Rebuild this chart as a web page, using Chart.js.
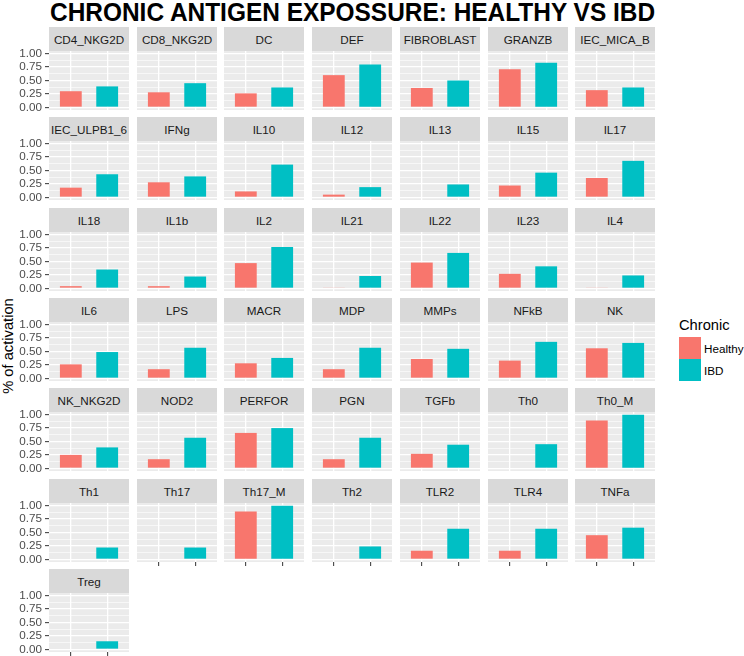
<!DOCTYPE html>
<html>
<head>
<meta charset="utf-8">
<script src="https://cdn.jsdelivr.net/npm/chart.js@4.4.1/dist/chart.umd.min.js"></script>
<style>
  html, body { margin: 0; padding: 0; background: #fff; }
  body { width: 744px; height: 656px; position: relative; overflow: hidden; font-family: "Liberation Sans", Arial, sans-serif; }
  canvas { position: absolute; }
  .strip { position: absolute; background: #D9D9D9; color: #1A1A1A; font-size: 11.7px; text-align: center; white-space: nowrap; display: flex; align-items: center; justify-content: center; overflow: visible; }
  #title { position: absolute; top: -1px; left: 0; font-weight: bold; font-size: 25px; line-height: 26px; white-space: nowrap; color: #000; transform-origin: center center; }
  #ytitle { position: absolute; font-size: 14.7px; color: #000; white-space: nowrap; transform: translate(-50%, -50%) rotate(-90deg); }
  .legtitle { position: absolute; font-size: 14.7px; color: #000; }
  .key { position: absolute; width: 21.6px; height: 21.6px; }
  .leglab { position: absolute; font-size: 11.7px; color: #000; transform: translateY(-50%); }
</style>
</head>
<body>
<div id="title">CHRONIC ANTIGEN EXPOSSURE: HEALTHY VS IBD</div>
<div id="ytitle">% of activation</div>

<script>
// panely (stimulusi), redom kao u originalu
const panelNames = [
  "CD4_NKG2D", "CD8_NKG2D", "DC", "DEF", "FIBROBLAST", "GRANZB", "IEC_MICA_B",
  "IEC_ULPB1_6", "IFNg", "IL10", "IL12", "IL13", "IL15", "IL17",
  "IL18", "IL1b", "IL2", "IL21", "IL22", "IL23", "IL4",
  "IL6", "LPS", "MACR", "MDP", "MMPs", "NFkB", "NK",
  "NK_NKG2D", "NOD2", "PERFOR", "PGN", "TGFb", "Th0", "Th0_M",
  "Th1", "Th17", "Th17_M", "Th2", "TLR2", "TLR4", "TNFa",
  "Treg"
];

const healthyValues = [
  0.30, 0.28, 0.26, 0.60, 0.36, 0.71, 0.32,
  0.18, 0.28, 0.11, 0.05, 0.00, 0.22, 0.36,
  0.04, 0.04, 0.47, 0.01, 0.48, 0.27, 0.01,
  0.26, 0.17, 0.28, 0.17, 0.36, 0.33, 0.56,
  0.25, 0.17, 0.66, 0.17, 0.27, 0.00, 0.89,
  0.00, 0.00, 0.89, 0.00, 0.16, 0.16, 0.45,
  0.00
];

const ibdValues = [
  0.39, 0.45, 0.37, 0.80, 0.50, 0.83, 0.37,
  0.43, 0.39, 0.61, 0.19, 0.24, 0.46, 0.68,
  0.35, 0.22, 0.77, 0.23, 0.66, 0.41, 0.24,
  0.49, 0.57, 0.38, 0.57, 0.55, 0.68, 0.66,
  0.39, 0.57, 0.75, 0.57, 0.44, 0.45, 1.00,
  0.22, 0.22, 1.00, 0.24, 0.57, 0.57, 0.59,
  0.15
];

const groups = ["Healthy", "IBD"];
const groupPositions = [1, 2];
const groupColors = ["#F8766D", "#00BFC4"];
const yTickValues = [0, 0.25, 0.5, 0.75, 1];

// raspored facet mreze
const NCOL = 7;
const PANEL_X0 = 49, PANEL_DX = 87.7, PANEL_W = 80;
const PANEL_Y0 = 51, PANEL_DY = 90.3, PANEL_H = 59;
const STRIP_H = 23.6;
const AXIS_W = 49;
const PAD = 10;

// pozadina panela (siva kao ggplot)
const panelBg = {
  id: "panelBg",
  beforeDraw(chart) {
    const a = chart.chartArea;
    chart.ctx.save();
    chart.ctx.fillStyle = "#EBEBEB";
    chart.ctx.fillRect(a.left, a.top, a.right - a.left, a.bottom - a.top);
    chart.ctx.restore();
  }
};

// glavne + pomocne linije mreze
let yAll = [];
yTickValues.forEach((v, i) => {
  yAll.push(v);
  if (i < yTickValues.length - 1) yAll.push((v + yTickValues[i + 1]) / 2);
});
const isMajor = (v) => yTickValues.some((m) => Math.abs(m - v) < 1e-9);

const n = panelNames.length;

panelNames.forEach((name, i) => {
  const col = i % NCOL;
  const row = Math.floor(i / NCOL);
  const px = Math.round(PANEL_X0 + col * PANEL_DX);
  const py = Math.round(PANEL_Y0 + row * PANEL_DY);
  const firstCol = col === 0;
  // panel na dnu svoje kolone dobija x tick oznake
  const bottom = i + NCOL >= n;

  // traka s nazivom
  let strip = document.createElement("div");
  strip.className = "strip";
  strip.style.left = px + "px";
  strip.style.top = (py - STRIP_H) + "px";
  strip.style.width = PANEL_W + "px";
  strip.style.height = STRIP_H + "px";
  strip.textContent = name;
  document.body.appendChild(strip);

  let leftW = firstCol ? AXIS_W : 0;
  let canvas = document.createElement("canvas");
  canvas.width = leftW + PANEL_W;
  canvas.height = PANEL_H + 2 * PAD;
  canvas.style.left = (px - leftW) + "px";
  canvas.style.top = (py - PAD) + "px";
  document.body.appendChild(canvas);

  new Chart(canvas, {
    type: "bar",
    data: {
      datasets: [{
        data: groupPositions.map((x, k) => ({ x: x, y: k === 0 ? healthyValues[i] : ibdValues[i] })),
        backgroundColor: groupColors,
        borderWidth: 0,
        barPercentage: 0.6,
        categoryPercentage: 1
      }]
    },
    options: {
      responsive: false,
      animation: false,
      devicePixelRatio: 1,
      layout: { padding: { top: PAD, bottom: PAD, left: 0, right: 0 } },
      plugins: { legend: { display: false }, tooltip: { enabled: false } },
      scales: {
        x: {
          type: "linear",
          min: 0.4,
          max: 2.6,
          offset: false,
          afterBuildTicks: (s) => { s.ticks = groupPositions.map((v) => ({ value: v })); },
          afterFit: (s) => { s.height = 0; },
          ticks: { display: false },
          border: { display: false },
          grid: {
            offset: false,
            color: "#FFFFFF",
            lineWidth: 1.3,
            drawTicks: bottom,
            tickLength: 4,
            tickColor: "#333333",
            tickWidth: 1
          }
        },
        y: {
          min: -0.05,
          max: 1.05,
          afterBuildTicks: (s) => { s.ticks = yAll.map((v) => ({ value: v })); },
          afterFit: (s) => { s.width = leftW; },
          border: { display: false },
          ticks: {
            display: firstCol,
            autoSkip: false,
            padding: 3,
            color: "#4D4D4D",
            font: { family: "'Liberation Sans', Arial, sans-serif", size: 11.7 },
            callback: (v) => (isMajor(v) ? v.toFixed(2) : "")
          },
          grid: {
            color: "#FFFFFF",
            lineWidth: (ctx) => (isMajor(ctx.tick.value) ? 1.3 : 0.6),
            drawTicks: firstCol,
            tickLength: 4,
            tickColor: (ctx) => (isMajor(ctx.tick.value) ? "#333333" : "rgba(0,0,0,0)"),
            tickWidth: 1
          }
        }
      }
    },
    plugins: [panelBg]
  });
});

// naslov centriran iznad panela
const title = document.getElementById("title");
const panelsLeft = PANEL_X0;
const panelsRight = PANEL_X0 + (NCOL - 1) * PANEL_DX + PANEL_W;
const tw = title.offsetWidth;
const targetW = 605;
title.style.left = ((panelsLeft + panelsRight) / 2 - tw / 2) + "px";
title.style.transform = "scaleX(" + (targetW / tw) + ")";

// naslov y osi
const yt = document.getElementById("ytitle");
yt.style.left = "8px";
yt.style.top = "346px";

// legenda
let lt = document.createElement("div");
lt.className = "legtitle";
lt.textContent = "Chronic";
lt.style.left = "679px";
lt.style.top = "317px";
document.body.appendChild(lt);
groups.forEach((g, k) => {
  let key = document.createElement("div");
  key.className = "key";
  key.style.left = "679px";
  key.style.top = (337.3 + k * 22) + "px";
  key.style.background = groupColors[k];
  document.body.appendChild(key);
  let lab = document.createElement("div");
  lab.className = "leglab";
  lab.textContent = g;
  lab.style.left = "704px";
  lab.style.top = (348 + k * 22) + "px";
  document.body.appendChild(lab);
});
</script>
</body>
</html>
